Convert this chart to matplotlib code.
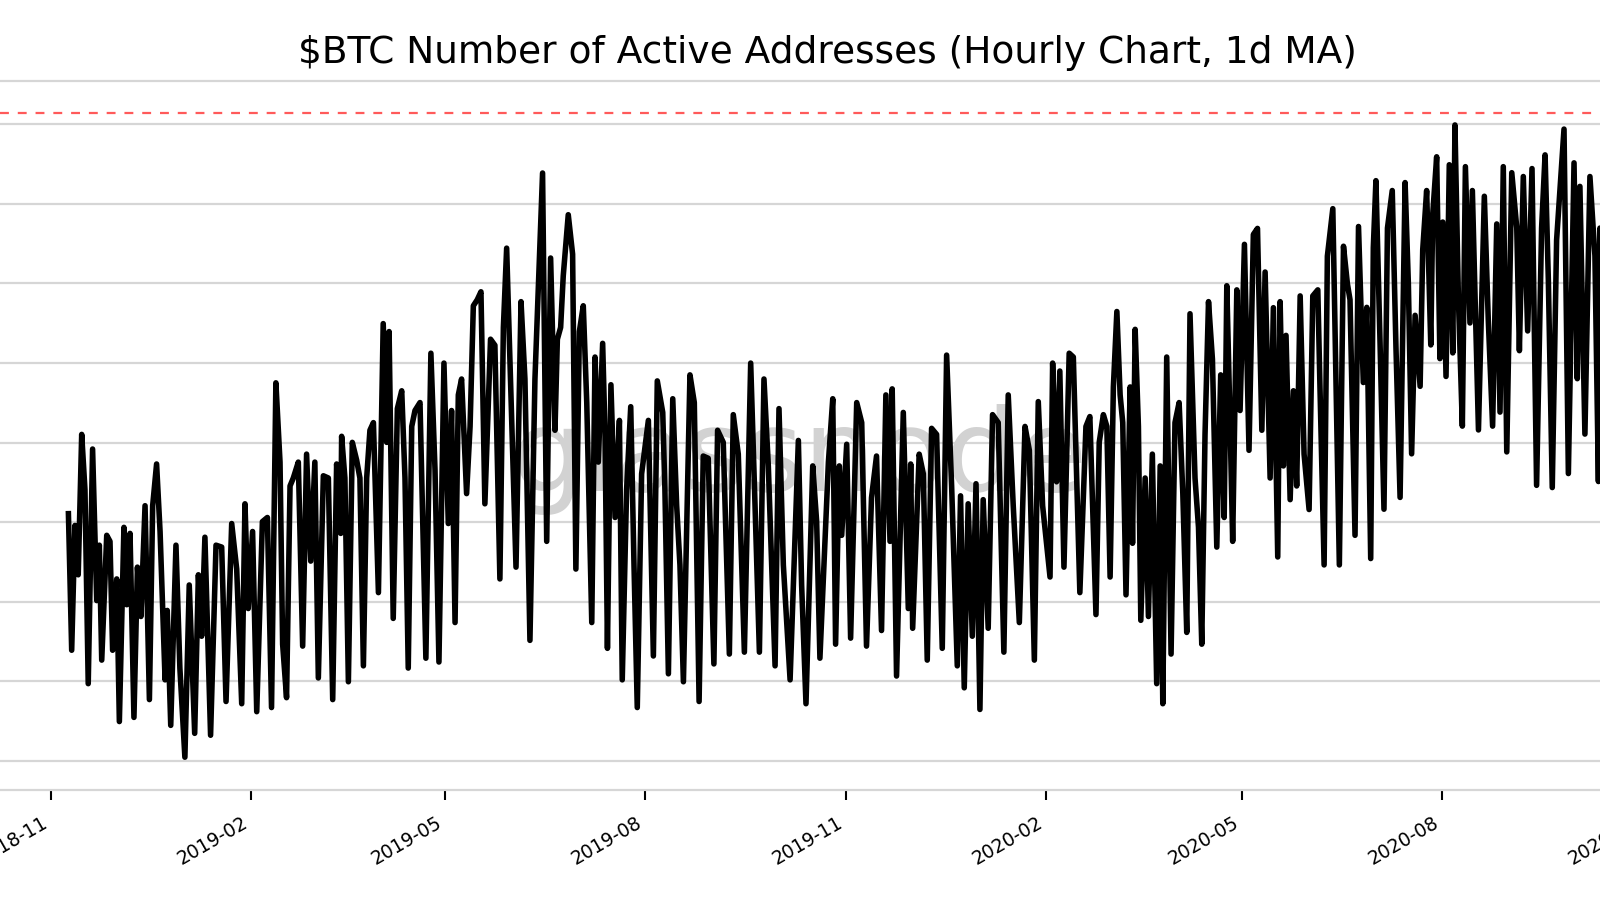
import matplotlib
matplotlib.use("Agg")
import matplotlib.pyplot as plt
import matplotlib.dates as mdates
import pandas as pd
import numpy as np

# ---- data ----
start_date = "2018-11-01"
# time of each point, in days since start_date
day_offset = [
    8.0, 9.5, 11.0, 12.5, 14.1, 15.6, 17.1, 19.1, 21.0, 22.2, 23.3, 25.6, 27.1, 28.3, 30.2, 31.4,
    33.5, 34.8, 36.3, 38.1, 39.7, 41.3, 43.2, 45.2, 46.7, 48.5, 50.1, 52.4, 53.4, 55.0, 57.4, 59.2,
    61.5, 63.5, 66.0, 67.7, 69.2, 70.7, 73.3, 75.8, 78.4, 80.4, 83.0, 85.3, 87.6, 89.1, 90.6, 92.6,
    94.5, 97.1, 99.4, 101.3, 103.3, 105.2, 106.4, 108.2, 109.8, 111.3, 113.6, 115.6, 117.4, 119.3,
    121.2, 122.8,
    125.1, 127.4, 129.4, 131.2, 133.1, 133.5, 135.0, 136.6, 138.4, 140.4, 141.9, 143.5, 145.0, 146.5,
    148.1, 150.4, 152.6, 154.2, 155.3, 157.2, 159.1, 161.1, 162.6, 164.1, 165.7, 167.2, 169.5, 172.2,
    174.5, 176.4, 178.2, 180.5, 182.5, 184.0, 185.6, 187.1, 188.6, 190.9, 192.5, 194.0, 195.8, 197.5,
    199.3, 201.9, 203.9, 206.2, 207.8, 209.3, 211.1, 213.6, 215.9, 217.7, 220.0, 222.3, 225.8, 227.7,
    229.5, 231.5, 232.6, 234.1, 235.3, 237.6, 239.6, 241.1, 242.7,
    244.5, 246.1, 248.4, 249.9, 251.4, 253.4, 254.5, 255.6, 257.2, 259.1, 261.1, 262.4, 264.4, 266.3,
    267.8, 269.3, 271.3, 274.4, 276.7, 278.5, 281.0, 282.0, 283.6, 285.6, 287.4, 288.9, 290.5, 293.5,
    295.5, 297.7, 299.6, 301.9, 304.5, 306.2, 308.8, 311.6, 313.4, 315.7, 318.5, 321.4, 323.4, 325.4,
    327.5, 329.5, 332.6, 334.4, 336.4, 339.5, 343.3, 344.8, 346.8, 349.9, 351.7, 353.2, 357.1, 359.1,
    360.4, 362.1,
    363.2, 365.5, 367.3, 370.1, 372.4, 374.6, 376.9, 379.2, 381.5, 383.5, 385.4, 386.4, 388.4, 391.5,
    393.8, 394.9, 395.8, 398.8, 400.7, 402.5, 404.5, 406.8, 409.4, 411.4, 413.7, 416.3, 417.8, 419.5,
    421.3, 423.2, 424.9, 426.7, 428.2, 430.5, 432.5, 435.1, 437.7, 439.7, 442.0, 444.8, 447.4, 449.4,
    451.7, 453.5, 455.5, 458.9, 460.1, 461.9, 463.4, 465.3, 467.7, 469.6, 472.6, 475.4, 477.2, 480.0,
    481.5,
    483.4, 485.0, 486.5, 488.0, 489.6, 491.1, 492.3, 493.8, 495.7, 496.8, 498.0, 499.5, 500.6, 502.6,
    504.1, 505.9, 507.9, 509.5, 510.7, 512.5, 514.5, 516.3, 518.2, 519.9, 521.7, 523.2, 525.5, 527.1,
    528.6, 530.1, 531.7, 533.5, 535.5, 537.3, 538.9, 540.1, 541.6, 542.8, 544.7, 546.2, 548.2, 550.3,
    552.3, 554.2, 556.2, 557.7, 560.0, 561.5, 563.5, 564.6, 566.1, 567.3, 569.2, 570.7, 572.2, 573.8,
    575.6, 577.9, 579.6, 581.9, 582.9, 584.8, 586.3, 588.8, 591.8, 593.7, 595.5, 596.7, 599.0, 600.6,
    602.8, 604.4, 606.2, 607.4, 608.6, 610.5, 612.3, 613.9, 616.1, 617.8, 619.7, 622.0, 623.5, 625.0,
    626.6, 628.9, 630.1, 631.9, 633.8, 634.7, 636.5, 638.0, 639.3, 640.8, 642.3, 643.9, 644.9, 646.5,
    648.3, 649.7, 651.8, 652.9, 655.7, 658.4, 660.2, 662.2, 664.1, 665.6, 667.1, 668.7, 671.0, 673.3,
    674.5, 676.3, 678.3, 680.3, 682.4, 684.7, 686.3, 687.8, 689.6, 691.6, 695.0, 697.0, 699.6, 701.1,
    702.3, 704.6, 706.9, 709.2, 710.8, 711.5, 713.5,
]
# active addresses (thousands, 1d moving average of hourly counts)
active_k = [
    27.77, 23.48, 27.40, 25.85, 30.26, 28.52, 22.43, 29.80, 25.04, 26.78, 23.17, 27.09, 26.90, 23.48, 25.72, 21.24,
    27.34, 24.91, 27.15, 21.37, 26.09, 24.54, 28.02, 21.93, 28.02, 29.33, 27.21, 22.55, 24.73, 21.12, 26.78, 22.92,
    20.12, 25.53, 20.87, 25.85, 23.92, 27.03, 20.81, 26.78, 26.72, 21.87, 27.46, 26.03, 21.80, 28.08, 24.79, 27.21,
    21.55, 27.52, 27.65, 21.68, 31.88, 29.39, 23.67, 21.99, 28.64, 28.89, 29.39, 23.61, 29.64, 26.28,
    29.39, 22.61,
    28.96, 28.89, 21.93, 29.33, 27.15, 30.20, 28.89, 22.49, 30.01, 29.45, 28.89, 22.99, 28.89, 30.39,
    30.63, 25.29, 33.74, 30.01, 33.49, 24.48, 31.07, 31.63, 28.89, 22.92, 30.51, 31.01, 31.26, 23.23,
    32.81, 29.14, 23.11, 32.50, 27.46, 31.01, 24.35, 31.50, 32.00, 28.40, 30.51, 34.30, 34.49, 34.74,
    28.08, 33.25, 33.06, 25.72, 33.62, 36.11, 31.88, 26.09, 34.43, 32.00, 23.79, 32.00, 38.47, 26.90,
    35.80, 30.39, 33.25, 33.62, 35.24, 37.16, 35.92, 26.03, 33.49,
    34.30, 31.26, 24.35, 32.69, 29.39, 33.12, 30.26, 23.54, 31.82, 27.65, 30.70, 22.55, 28.52, 31.13,
    26.16, 21.68, 29.02, 30.70, 23.30, 31.94, 30.95, 28.52, 22.74, 31.38, 28.02, 26.16, 22.49, 32.13,
    31.26, 21.87, 29.58, 29.51, 23.05, 30.39, 30.01, 23.36, 30.88, 29.64, 23.42, 32.50, 28.02, 23.42,
    32.00, 29.27, 22.99, 31.07, 26.16, 22.55, 30.07, 25.53, 21.80, 29.27, 27.52, 23.23, 29.39, 31.38,
    23.67, 29.27,
    27.09, 29.95, 23.86, 31.26, 30.63, 23.61, 28.27, 29.58, 24.10, 31.50, 26.90, 31.69, 22.67, 30.95,
    24.79, 29.33, 24.17, 29.64, 29.02, 23.17, 30.45, 30.26, 23.54, 32.75, 28.64, 22.99, 28.33, 22.30,
    28.08, 23.92, 28.71, 21.62, 28.21, 24.17, 30.88, 30.63, 23.42, 31.50, 28.02, 24.35, 30.51, 29.76,
    23.17, 31.29, 28.02, 25.78, 32.50, 28.77, 32.25, 26.09, 32.81, 32.69, 25.29, 30.51, 30.82, 24.60,
    30.01,
    30.88, 30.51, 25.78, 31.75, 34.12, 31.50, 30.63, 25.22, 31.75, 26.84, 33.56, 30.51, 24.42, 28.89,
    24.54, 29.64, 22.43, 29.27, 21.80, 32.69, 23.36, 30.63, 31.26, 28.40, 24.04, 34.05, 28.89, 27.34,
    23.67, 30.26, 34.43, 32.62, 26.72, 32.13, 27.65, 34.93, 30.63, 26.90, 34.80, 31.01, 36.23, 29.76,
    36.54, 36.73, 30.39, 35.36, 28.89, 34.24, 26.41, 34.43, 29.27, 33.37, 28.21, 31.63, 28.64, 34.61,
    29.64, 27.90, 34.61, 34.80, 31.75, 26.16, 35.86, 37.35, 26.16, 36.17, 34.99, 34.49, 27.09, 36.79,
    31.89, 34.25, 26.36, 36.12, 38.23, 33.13, 27.91, 36.74, 37.92, 33.01, 28.28, 38.17, 35.00, 29.65,
    34.00, 31.77, 36.06, 37.92, 33.07, 37.18, 38.98, 32.64, 36.93, 32.08, 38.73, 32.82, 39.98, 34.50,
    30.52, 38.67, 33.76, 37.92, 30.40, 37.74, 33.88, 30.52, 36.87, 30.96, 38.67, 29.71, 38.48, 36.74,
    32.89, 38.36, 33.51, 38.61, 28.66, 36.74, 39.04, 35.12, 28.59, 36.37, 39.85, 29.03, 38.79, 32.01,
    38.05, 30.27, 38.36, 35.87, 28.78, 36.74, 33.50,
]
ath_level = 40360          # red dashed reference line
y_grid = [20000, 22500, 25000, 27500, 30000, 32500, 35000, 37500, 40000]
tick_dates = ["2018-11-01", "2019-02-01", "2019-05-01", "2019-08-01", "2019-11-01",
              "2020-02-01", "2020-05-01", "2020-08-01", "2020-11-01"]
title = r"\$BTC Number of Active Addresses (Hourly Chart, 1d MA)"

# ---- build ----
base = pd.Timestamp(start_date)
dates = base + pd.to_timedelta(np.array(day_offset), unit="D")
values = np.array(active_k) * 1000

fig = plt.figure(figsize=(16, 9), dpi=100)
fig.patch.set_facecolor("white")
ax = fig.add_axes([0.0, 1 - 790 / 900, 1.05, (790 - 80.7) / 900])

ax.plot(dates, values, color="black", lw=4.0, solid_joinstyle="round", zorder=3)
ax.axhline(ath_level, color="#ff5a5a", lw=1.6, dashes=(4, 4), zorder=2)

ax.text(0.5 * (521 + 1078) / 1600 / 1.05, (790 - 491) / (790 - 80.7), "glassnode",
        transform=ax.transAxes, ha="center", va="baseline", fontsize=82,
        color="#d2d2d2", zorder=2.5)

x0 = mdates.date2num(base)
px_per_day = 2.177
ax.set_xlim(x0 - 51 / px_per_day, x0 + (1680 - 51) / px_per_day)
ax.set_ylim(19090, 41370)

ax.set_yticks(y_grid)
ax.yaxis.grid(True, color="#d6d6d6", lw=1.6, zorder=0)
ax.tick_params(axis="y", length=0, labelleft=False)
ax.set_xticks([mdates.date2num(pd.Timestamp(d)) for d in tick_dates])
ax.xaxis.set_major_formatter(mdates.DateFormatter("%Y-%m"))
ax.tick_params(axis="x", length=7.5, width=1.5, color="black", pad=9, labelsize=13.5)
for lbl in ax.get_xticklabels():
    lbl.set_rotation(30)
    lbl.set_ha("right")

for side in ["left", "right"]:
    ax.spines[side].set_visible(False)
for side in ["top", "bottom"]:
    ax.spines[side].set_color("#d6d6d6")
    ax.spines[side].set_linewidth(1.6)

fig.text(827.6 / 1600, 1 - 63 / 900, title, ha="center", va="baseline", fontsize=27)

fig.savefig("out.png", dpi=100, facecolor="white")
